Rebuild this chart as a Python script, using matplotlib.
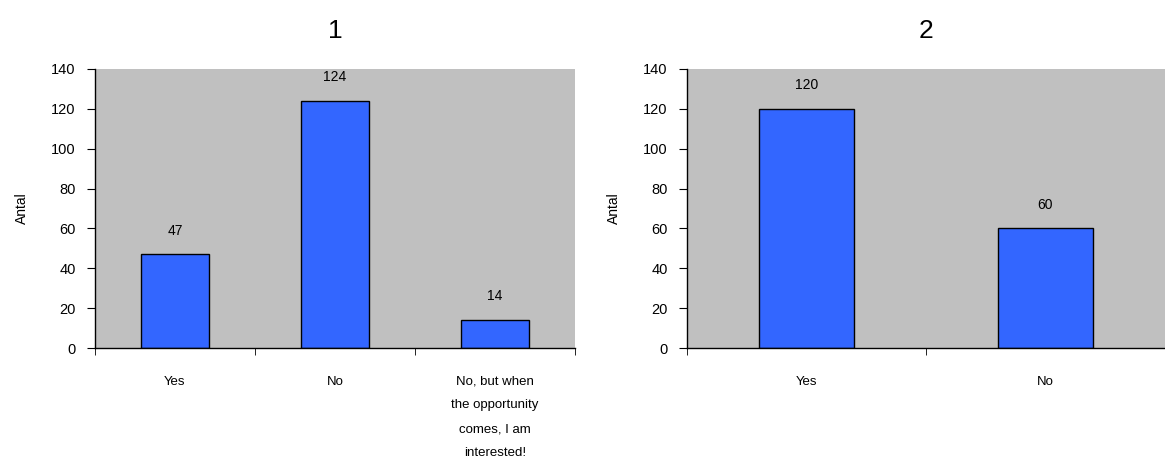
import matplotlib
matplotlib.use("Agg")
import matplotlib.pyplot as plt
import numpy as np

plt.rcParams['font.family'] = ['Liberation Sans', 'DejaVu Sans']

# chart 1
labels1 = ['Yes', 'No', 'No, but when\nthe opportunity\ncomes, I am\ninterested!']
values1 = [47, 124, 14]
# chart 2
labels2 = ['Yes', 'No']
values2 = [120, 60]

BG = '#c0c0c0'
BAR = '#3366ff'


def draw(ax, labels, values, title, width):
    x = np.arange(len(values))
    ax.set_facecolor(BG)
    ax.bar(x, values, width=width, color=BAR, edgecolor='black', linewidth=1)
    for xi, v in zip(x, values):
        ax.annotate(str(v), (xi, v), xytext=(0, 12), textcoords='offset points',
                    ha='center', va='bottom', fontsize=10)
    ax.set_xlim(-0.5, len(values) - 0.5)
    ax.set_ylim(0, 140)
    ax.set_yticks(range(0, 141, 20))
    ax.set_xticks(x)
    ax.set_xticklabels(labels, fontsize=9.5, linespacing=2.3)
    ax.set_xticks(np.arange(-0.5, len(values)), minor=True)
    ax.tick_params(axis='x', which='major', length=0, pad=20)
    ax.tick_params(axis='x', which='minor', length=5, direction='out')
    ax.tick_params(axis='y', length=6, direction='out', labelsize=10.5, pad=8)
    ax.set_ylabel('Antal', fontsize=10, labelpad=16)
    ax.set_title(title, fontsize=19, pad=22)
    for s in ['top', 'right']:
        ax.spines[s].set_visible(False)
    for s in ['left', 'bottom']:
        ax.spines[s].set_linewidth(1)


fig = plt.figure(figsize=(11.65, 4.68), dpi=100)
ax1 = fig.add_axes([95 / 1165, 120 / 468, 480 / 1165, 279 / 468])
ax2 = fig.add_axes([687 / 1165, 120 / 468, 478 / 1165, 279 / 468])

draw(ax1, labels1, values1, '1', 0.42)
draw(ax2, labels2, values2, '2', 0.4)

fig.savefig('out.png', dpi=100)
